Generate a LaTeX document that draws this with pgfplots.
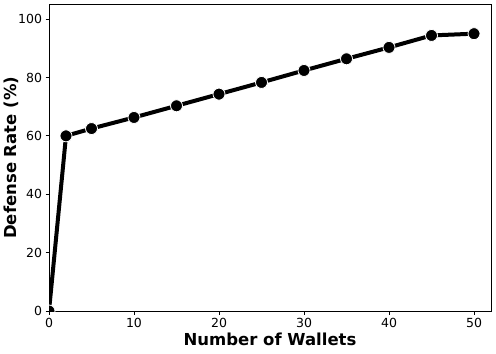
\documentclass[border=0pt]{standalone}
\usepackage{pgfplots}
\pgfplotsset{compat=1.18}
\usepackage{fontspec}
\setmainfont{DejaVu Sans}
\begin{document}
\begin{tikzpicture}
\begin{axis}[
  scale only axis,
  width=442pt, height=306.5pt,
  xmin=0, xmax=52, ymin=0, ymax=105,
  xtick={0,10,20,30,40,50},
  ytick={0,20,40,60,80,100},
  tick align=outside,
  major tick length=3.5pt,
  tick style={black, line width=0.8pt},
  axis line style={black, line width=1pt},
  xtick pos=bottom, ytick pos=left,
  ticklabel style={font=\fontsize{12.5}{14}\selectfont},
  /pgf/number format/assume math mode=true,
  xlabel={\bfseries Number of Wallets},
  ylabel={\bfseries Defense Rate (\%)},
  label style={font=\fontsize{16.5}{19}\selectfont\bfseries},
  xlabel style={yshift=1pt},
  ylabel style={yshift=-7pt},
  clip marker paths=true,
]
\addplot[black, line width=4pt, mark=*, mark size=6pt, mark options={solid, fill=black, draw=white, line width=0.8pt}]
coordinates {
(0,0) (2,60) (5,62.5) (10,66.3) (15,70.3) (20,74.3) (25,78.3) (30,82.4) (35,86.4) (40,90.3) (45,94.4) (50,95)
};
\end{axis}
\pgfresetboundingbox
\path ([shift={(-49pt,-42pt)}]current axis.south west) rectangle ([shift={(5pt,4.5pt)}]current axis.north east);
\end{tikzpicture}
\end{document}
